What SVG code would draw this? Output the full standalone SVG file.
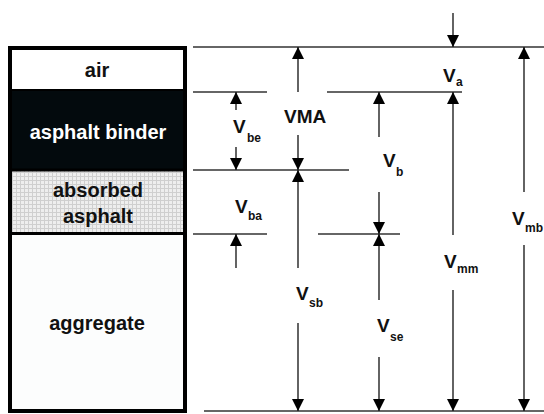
<svg xmlns="http://www.w3.org/2000/svg" width="544" height="414" viewBox="0 0 544 414">
<style>
.lbl{font-family:"Liberation Sans",Arial,sans-serif;font-weight:bold;fill:#111}
.box{font-family:"Liberation Sans",Arial,sans-serif;font-weight:bold;font-size:20px;text-anchor:middle}
.h{stroke:#333;stroke-width:1.5;fill:none}
.s{stroke:#222;stroke-width:1.4;fill:none}
.v{font-size:19px}
.sub{font-size:12px}
</style>
<defs>
<marker id="ah" viewBox="0 0 12 12" refX="12" refY="6" markerWidth="12" markerHeight="12" markerUnits="userSpaceOnUse" orient="auto">
<path d="M0,0 L12,6 L0,12 Z" fill="#000"/>
</marker>
<pattern id="grid" width="4" height="4" patternUnits="userSpaceOnUse">
<rect width="4" height="4" fill="#eeeeee"/>
<path d="M0,0.5 H4 M0.5,0 V4" stroke="#cfcfcf" stroke-width="1"/>
</pattern>
</defs>
<rect width="544" height="414" fill="#fff"/>
<g id="column">
<rect x="10" y="48" width="175" height="42" fill="#fff"/>
<rect x="10" y="90" width="175" height="80" fill="#030a0d"/>
<rect x="10" y="170" width="175" height="63" fill="url(#grid)"/>
<rect x="10" y="233" width="175" height="178" fill="#fcfdfd"/>
<line x1="10" y1="90" x2="185" y2="90" stroke="#000" stroke-width="2"/>
<line x1="10" y1="170" x2="185" y2="170" stroke="#000" stroke-width="3"/>
<line x1="10" y1="233.5" x2="185" y2="233.5" stroke="#000" stroke-width="3"/>
<rect x="10" y="48" width="175" height="363" fill="none" stroke="#000" stroke-width="4"/>
</g>
<g id="air"><text class="box" x="97" y="77" fill="#111">air</text></g>
<g id="binder"><text class="box" x="98" y="139" fill="#fff">asphalt binder</text></g>
<g id="absorbed"><text class="box" x="98" y="197" fill="#111">absorbed</text><text class="box" x="98" y="223" fill="#111">asphalt</text></g>
<g id="aggregate"><text class="box" x="97" y="330" fill="#111">aggregate</text></g>
<g id="connectors">
<line class="h" x1="193" y1="47" x2="544" y2="47"/>
<line class="h" x1="193" y1="92" x2="267" y2="92"/>
<line class="h" x1="327" y1="92" x2="462" y2="92"/>
<line class="h" x1="193" y1="170" x2="349" y2="170"/>
<line class="h" x1="193" y1="234" x2="267" y2="234"/>
<line class="h" x1="318" y1="234" x2="400" y2="234"/>
<line class="h" x1="204" y1="411" x2="544" y2="411"/>
<line class="s" x1="236" y1="110" x2="236" y2="92" marker-end="url(#ah)"/>
<line class="s" x1="236" y1="147" x2="236" y2="170" marker-end="url(#ah)"/>
<line class="s" x1="236" y1="268" x2="236" y2="234" marker-end="url(#ah)"/>
<line class="s" x1="298" y1="92" x2="298" y2="47" marker-end="url(#ah)"/>
<line class="s" x1="298" y1="135" x2="298" y2="170" marker-end="url(#ah)"/>
<line class="s" x1="298" y1="268" x2="298" y2="170" marker-end="url(#ah)"/>
<line class="s" x1="298" y1="323" x2="298" y2="411" marker-end="url(#ah)"/>
<line class="s" x1="379" y1="137" x2="379" y2="92" marker-end="url(#ah)"/>
<line class="s" x1="379" y1="192" x2="379" y2="234" marker-end="url(#ah)"/>
<line class="s" x1="379" y1="300" x2="379" y2="234" marker-end="url(#ah)"/>
<line class="s" x1="379" y1="357" x2="379" y2="411" marker-end="url(#ah)"/>
<line class="s" x1="453" y1="13" x2="453" y2="47" marker-end="url(#ah)"/>
<line class="s" x1="453" y1="235" x2="453" y2="92" marker-end="url(#ah)"/>
<line class="s" x1="453" y1="290" x2="453" y2="411" marker-end="url(#ah)"/>
<line class="s" x1="524" y1="192" x2="524" y2="47" marker-end="url(#ah)"/>
<line class="s" x1="524" y1="245" x2="524" y2="411" marker-end="url(#ah)"/>
</g>
<g id="labels">
<text class="lbl v" x="233" y="133">V</text><text class="lbl sub" x="247" y="142">be</text>
<text class="lbl v" x="235" y="213">V</text><text class="lbl sub" x="248" y="220">ba</text>
<text class="lbl" x="284" y="123" font-size="19">VMA</text>
<text class="lbl v" x="443" y="82">V</text><text class="lbl sub" x="456" y="86">a</text>
<text class="lbl v" x="383" y="167">V</text><text class="lbl sub" x="396" y="176">b</text>
<text class="lbl v" x="296" y="300">V</text><text class="lbl sub" x="309" y="307">sb</text>
<text class="lbl v" x="377" y="332">V</text><text class="lbl sub" x="390" y="341">se</text>
<text class="lbl v" x="444" y="268">V</text><text class="lbl sub" x="457" y="273">mm</text>
<text class="lbl v" x="512" y="225">V</text><text class="lbl sub" x="525" y="232">mb</text>
</g>
</svg>
